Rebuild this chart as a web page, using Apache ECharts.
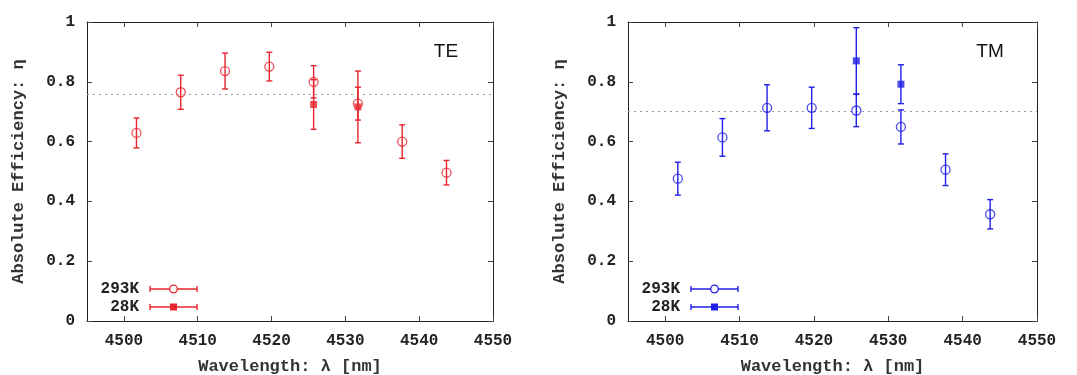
<!DOCTYPE html>
<html>
<head>
<meta charset="utf-8">
<script src="https://cdn.jsdelivr.net/npm/echarts@6/dist/echarts.min.js"></script>
<style>
  html, body { margin: 0; padding: 0; background: #fff; }
  #chart { width: 1077px; height: 375px; }
</style>
</head>
<body>
<div id="chart"></div>
<script>
// wavelengths (nm)
const wavelengths = [4501.7, 4507.7, 4513.7, 4519.7, 4525.7, 4531.7, 4537.7, 4543.7]
const wavelengthsCold = [4525.7, 4531.7]

// TE polarisation
const teRoom = [0.629, 0.765, 0.836, 0.851, 0.800, 0.727, 0.600, 0.496]
const teRoomErr = [0.050, 0.057, 0.060, 0.048, 0.054, 0.055, 0.056, 0.041]
const teCold = [0.724, 0.716]
const teColdErr = [0.083, 0.120]
const teMean = 0.763

// TM polarisation
const tmRoom = [0.476, 0.614, 0.713, 0.713, 0.704, 0.649, 0.506, 0.357]
const tmRoomErr = [0.055, 0.063, 0.077, 0.069, 0.054, 0.057, 0.053, 0.049]
const tmCold = [0.870, 0.792]
const tmColdErr = [0.111, 0.065]
const tmMean = 0.696

const xTicks = [4500, 4510, 4520, 4530, 4540, 4550]
const legendLabels = ['293K', '28K']

const mono = '"Liberation Mono", "DejaVu Sans Mono", monospace'
const red = '#e8252d'
const blue = '#1f1fe6'

const chart = echarts.init(document.getElementById('chart'))

const grids = [
  { left: 87, top: 22, width: 406, height: 299, outerBoundsMode: 'none' },
  { left: 628, top: 22, width: 409, height: 299, outerBoundsMode: 'none' }
]

// x axes: bottom (labels) + top (mirror ticks) for each grid
const xAxes = []
const yAxes = []
grids.forEach((g, i) => {
  const common = {
    type: 'value',
    gridIndex: i,
    min: 4495,
    max: 4550,
    splitLine: { show: false },
    axisLine: { show: true, onZero: false, lineStyle: { color: '#222', width: 1 } },
    axisTick: { show: true, inside: true, length: 5, customValues: xTicks, lineStyle: { color: '#444' } }
  }
  xAxes.push(Object.assign({}, common, {
    position: 'bottom',
    name: 'Wavelength: λ [nm]',
    nameLocation: 'middle',
    nameGap: 37,
    nameTextStyle: { fontFamily: mono, fontSize: 17, fontWeight: 'bold', color: '#333' },
    axisLabel: {
      customValues: xTicks, margin: 12, fontFamily: mono, fontSize: 16, fontWeight: 'bold', color: '#222',
      formatter: v => String(v)
    }
  }))
  xAxes.push(Object.assign({}, common, {
    position: 'top',
    axisLabel: { show: false }
  }))
  const ycommon = {
    type: 'value',
    gridIndex: i,
    min: 0,
    max: 1,
    interval: 0.2,
    splitLine: { show: false },
    axisLine: { show: true, onZero: false, lineStyle: { color: '#222', width: 1 } },
    axisTick: { show: true, inside: true, length: 5, lineStyle: { color: '#444' } }
  }
  yAxes.push(Object.assign({}, ycommon, {
    position: 'left',
    name: 'Absolute Efficiency: η',
    nameLocation: 'middle',
    nameGap: 60,
    nameTextStyle: { fontFamily: mono, fontSize: 17, fontWeight: 'bold', color: '#333' },
    axisLabel: {
      margin: 12, fontFamily: mono, fontSize: 16, fontWeight: 'bold', color: '#222',
      formatter: v => (v === 0 || v === 1) ? String(v) : v.toFixed(1)
    }
  }))
  yAxes.push(Object.assign({}, ycommon, {
    position: 'right',
    axisLabel: { show: false }
  }))
})

function errorBarSeries(idx, xs, ys, errs, color) {
  return {
    type: 'custom',
    xAxisIndex: idx * 2,
    yAxisIndex: idx * 2,
    silent: true,
    data: xs.map((x, k) => [x, ys[k] - errs[k], ys[k] + errs[k]]),
    renderItem: (params, api) => {
      const lo = api.coord([api.value(0), api.value(1)])
      const hi = api.coord([api.value(0), api.value(2)])
      const w = 3
      const st = { stroke: color, lineWidth: 1.4 }
      return {
        type: 'group',
        children: [
          { type: 'line', shape: { x1: lo[0], y1: lo[1], x2: hi[0], y2: hi[1] }, style: st },
          { type: 'line', shape: { x1: lo[0] - w, y1: lo[1], x2: lo[0] + w, y2: lo[1] }, style: st },
          { type: 'line', shape: { x1: hi[0] - w, y1: hi[1], x2: hi[0] + w, y2: hi[1] }, style: st }
        ]
      }
    },
    z: 2
  }
}

function pointSeries(idx, xs, ys, color, filled, mean) {
  const s = {
    type: 'scatter',
    xAxisIndex: idx * 2,
    yAxisIndex: idx * 2,
    symbol: filled ? 'rect' : 'circle',
    symbolSize: filled ? 7 : 9,
    itemStyle: filled
      ? { color: color }
      : { color: 'rgba(255,255,255,0)', borderColor: color, borderWidth: 1.3 },
    data: xs.map((x, k) => [x, ys[k]]),
    z: 3
  }
  if (mean !== undefined) {
    s.markLine = {
      silent: true,
      symbol: 'none',
      label: { show: false },
      lineStyle: { color: '#999', type: [2, 4], width: 1 },
      data: [{ yAxis: mean }],
      z: 1
    }
  }
  return s
}

// legend drawn as graphic (error-bar sample with marker)
function legendGraphic(textRight, lineX1, lineX2, rowsY, color) {
  const els = []
  legendLabels.forEach((lab, k) => {
    const y = rowsY[k]
    els.push({
      type: 'text', x: textRight, y: y,
      style: { text: lab, fontFamily: mono, fontSize: 16, fontWeight: 'bold', fill: '#222', align: 'right', verticalAlign: 'middle' }
    })
    const st = { stroke: color, lineWidth: 1.4 }
    els.push({ type: 'line', shape: { x1: lineX1, y1: y, x2: lineX2, y2: y }, style: st })
    els.push({ type: 'line', shape: { x1: lineX1, y1: y - 3, x2: lineX1, y2: y + 3 }, style: st })
    els.push({ type: 'line', shape: { x1: lineX2, y1: y - 3, x2: lineX2, y2: y + 3 }, style: st })
    const cx = (lineX1 + lineX2) / 2
    if (k === 0) {
      els.push({ type: 'circle', shape: { cx: cx, cy: y, r: 3.8 }, style: { fill: '#fff', stroke: color, lineWidth: 1.3 } })
    } else {
      els.push({ type: 'rect', shape: { x: cx - 3.5, y: y - 3.5, width: 7, height: 7 }, style: { fill: color } })
    }
  })
  return els
}

const labelFont = 'Liberation Sans, Arial, sans-serif'

const option = {
  animation: false,
  grid: grids,
  xAxis: xAxes,
  yAxis: yAxes,
  series: [
    errorBarSeries(0, wavelengths, teRoom, teRoomErr, red),
    errorBarSeries(0, wavelengthsCold, teCold, teColdErr, red),
    pointSeries(0, wavelengths, teRoom, red, false, teMean),
    pointSeries(0, wavelengthsCold, teCold, red, true),
    errorBarSeries(1, wavelengths, tmRoom, tmRoomErr, blue),
    errorBarSeries(1, wavelengthsCold, tmCold, tmColdErr, blue),
    pointSeries(1, wavelengths, tmRoom, blue, false, tmMean),
    pointSeries(1, wavelengthsCold, tmCold, blue, true)
  ],
  graphic: [
    { type: 'text', x: 446, y: 52, style: { text: 'TE', fontFamily: labelFont, fontSize: 19, fill: '#111', align: 'center', verticalAlign: 'middle' } },
    { type: 'text', x: 990, y: 52, style: { text: 'TM', fontFamily: labelFont, fontSize: 19, fill: '#111', align: 'center', verticalAlign: 'middle' } },
    ...legendGraphic(139, 150, 197, [289, 307], red),
    ...legendGraphic(680, 691, 738, [289, 307], blue)
  ]
}

chart.setOption(option)
</script>
</body>
</html>
